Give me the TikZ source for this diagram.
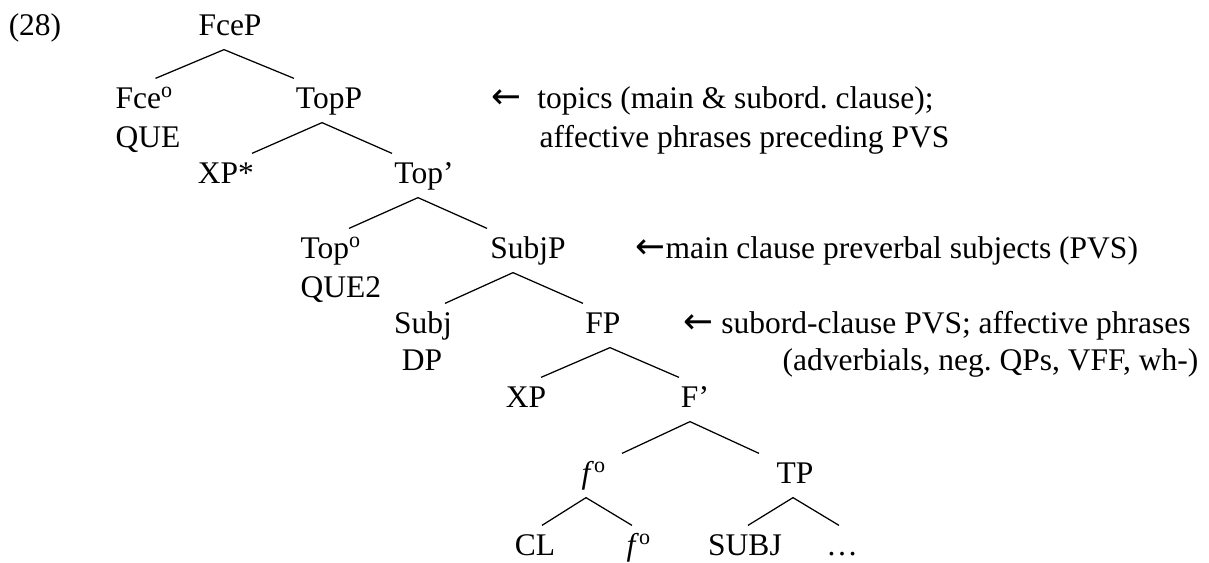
\documentclass[tikz,border=0pt]{standalone}
\usepackage{fontspec}
\setmainfont{Liberation Serif}
\newfontfamily\arrowfont{DejaVu Sans}
\usetikzlibrary{calc}

\newcommand{\larr}{{\arrowfont\fontsize{14.3}{16}\selectfont ←}}

\begin{document}
\begin{tikzpicture}[x=0.4pt, y=-0.4pt, line width=0.5pt,
    font=\fontsize{12.6}{15}\selectfont,
    cat/.style={inner xsep=0pt, inner ysep=3.6pt, text height=8pt, text depth=2pt, anchor=base},
    note/.style={inner sep=0pt, anchor=base west}]
  \useasboundingbox (0,0) rectangle (1209,562);
  \node[cat] (ex) at (35,35) {(28)};
  % tree
  \node[cat] (FceP) at (230,35) {FceP};
  \node[cat, anchor=base west] (Fce) at (115,108) {Fce\textsuperscript{o}};
  \node[cat, anchor=base west] (que) at (115,147) {QUE};
  \node[cat] (TopP) at (329,108) {TopP};
  \node[cat] (XPs) at (226,183) {XP*};
  \node[cat] (Topbar) at (424,183) {Top'};
  \node[cat, anchor=base west] (Top) at (300,258) {Top\textsuperscript{o}};
  \node[cat, anchor=base west] (que2) at (300,297) {QUE2};
  \node[cat] (SubjP) at (528,258) {SubjP};
  \node[cat] (Subj) at (423,333) {Subj};
  \node[cat] (DP) at (422,370) {DP};
  \node[cat] (FP) at (603,333) {FP};
  \node[cat] (XP) at (526,407) {XP};
  \node[cat] (Fbar) at (695,407) {F'};
  \node[cat] (f) at (594,483) {\textit{f}\textsuperscript{o}};
  \node[cat] (TP) at (795,483) {TP};
  \node[cat] (CL) at (535,555) {CL};
  \node[cat] (fhead) at (639,555) {\textit{f}\textsuperscript{o}};
  \node[cat] (SUBJ) at (745,555) {SUBJ};
  \node[cat] (dots) at (842,555) {\dots};
  % branches
  \draw ($(Fce.north)+(11,0)$) -- ($(FceP.south)+(-6,0)$) -- ($(TopP.north)+(-35,0)$);
  \draw ($(XPs.north)+(26,0)$) -- ($(TopP.south)+(-7,0)$) -- ($(Topbar.north)+(-32,0)$);
  \draw ($(Top.north)+(18,0)$) -- ($(Topbar.south)+(-6,0)$) -- ($(SubjP.north)+(-41,0)$);
  \draw ($(Subj.north)+(22,0)$) -- ($(SubjP.south)+(-15,0)$) -- ($(FP.north)+(-20,0)$);
  \draw ($(XP.north)+(15,0)$) -- ($(FP.south)+(7,0)$) -- ($(Fbar.north)+(-16,0)$);
  \draw ($(f.north)+(28,0)$) -- ($(Fbar.south)+(-5,0)$) -- ($(TP.north)+(-36,0)$);
  \draw ($(CL.north)+(7,0)$) -- ($(f.south)+(-8,0)$) -- ($(fhead.north)+(-7,0)$);
  \draw ($(SUBJ.north)+(3,0)$) -- ($(TP.south)+(-2,0)$) -- ($(dots.north)+(-3,0)$);
  % notes
  \node[note] (topnote) at (491,108) {\larr\hspace{0.5em}topics (main \& subord.\ clause);};
  \node[note] (topnote2) at (539,147) {affective phrases preceding PVS};
  \node[note] (subjnote) at (635,258) {\larr main clause preverbal subjects (PVS)};
  \node[note] (fpnote) at (683,333) {\larr\ subord-clause PVS; affective phrases};
  \node[note, anchor=base east] (fpnote2) at (1199,370) {(adverbials, neg.\ QPs, VFF, wh-)};
\end{tikzpicture}
\end{document}
